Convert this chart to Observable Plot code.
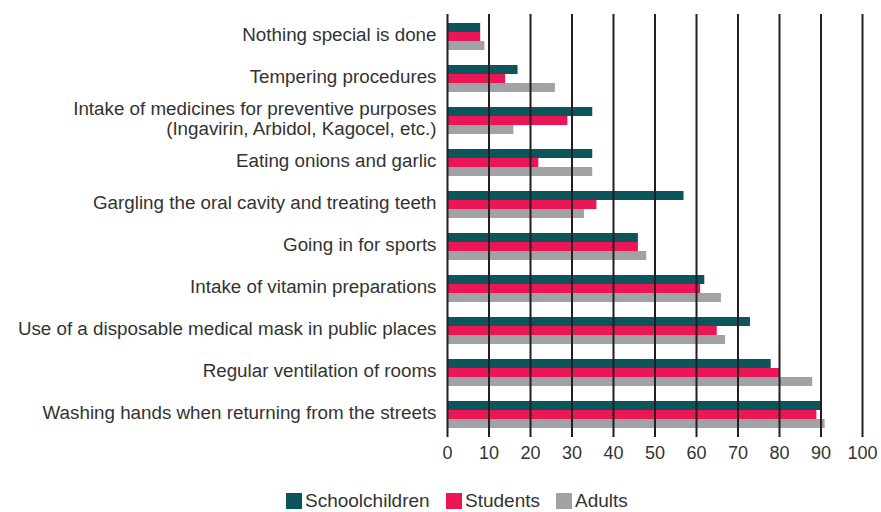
<!DOCTYPE html>
<html>
<head>
<meta charset="utf-8">
<script src="https://cdn.jsdelivr.net/npm/d3@7"></script>
<script src="https://cdn.jsdelivr.net/npm/@observablehq/plot@0.6"></script>
<style>
  html, body { margin: 0; padding: 0; background: #fff; overflow: hidden; }
  body { width: 881px; font-family: "Liberation Sans", Arial, sans-serif; color: #333; }
  #chart svg { display: block; }
  #legend { position: relative; height: 37px; font-size: 19px; }
  .item { position: absolute; top: 18px; display: flex; align-items: center; height: 16px; }
  .sw { width: 16px; height: 16px; margin-right: 3px; }
  .item span { display: block; line-height: 16px; }
</style>
</head>
<body>
<div id="chart"></div>
<div id="legend"></div>
<script>
const categories = [
  "Nothing special is done",
  "Tempering procedures",
  "Intake of medicines for preventive purposes\n(Ingavirin, Arbidol, Kagocel, etc.)",
  "Eating onions and garlic",
  "Gargling the oral cavity and treating teeth",
  "Going in for sports",
  "Intake of vitamin preparations",
  "Use of a disposable medical mask in public places",
  "Regular ventilation of rooms",
  "Washing hands when returning from the streets"
];
const series = ["Schoolchildren", "Students", "Adults"];
const schoolchildren = [8, 17, 35, 35, 57, 46, 62, 73, 78, 90];
const students = [8, 14, 29, 22, 36, 46, 61, 65, 80, 89];
const adults = [9, 26, 16, 35, 33, 48, 66, 67, 88, 91];
const xTicks = [0, 10, 20, 30, 40, 50, 60, 70, 80, 90, 100];
const colors = ["#0b555b", "#ec1556", "#a1a2a6"];

const valuesBySeries = [schoolchildren, students, adults];
const rows = [];
series.forEach((s, si) => categories.forEach((c, ci) => rows.push({category: c, series: s, value: valuesBySeries[si][ci]})));

const bandInset = [[0, 18], [9, 9], [18, 0]];

const chart = Plot.plot({
  width: 881,
  height: 475,
  marginLeft: 447,
  marginRight: 19,
  marginTop: 14,
  marginBottom: 38,
  style: {fontFamily: "Liberation Sans, Arial, sans-serif", fontSize: "18px", color: "#333"},
  x: {domain: [0, 100], ticks: xTicks, label: null},
  y: {domain: categories, paddingInner: 0.36, paddingOuter: 0.185, label: null},
  color: {domain: series, range: colors},
  marks: [
    ...series.map((s, si) => Plot.barX(rows.filter(d => d.series === s), {
      x: "value", y: "category", fill: "series",
      insetTop: bandInset[si][0], insetBottom: bandInset[si][1]
    })),
    Plot.ruleX(xTicks, {stroke: "#231f20", strokeWidth: 2}),
    Plot.axisX({ticks: xTicks, tickSize: 0, tickPadding: 9, fontSize: 18, fill: "#333", label: null}),
    Plot.axisY({tickSize: 0, tickPadding: 11, fontSize: 18.8, fill: "#333", label: null, lineHeight: 1.05, dy: -2})
  ]
});
document.getElementById("chart").appendChild(chart);

const legend = document.getElementById("legend");
const lefts = [286, 446, 556];
series.forEach((s, i) => {
  const item = document.createElement("div");
  item.className = "item";
  item.style.left = lefts[i] + "px";
  item.innerHTML = `<div class="sw" style="background:${colors[i]}"></div><span>${s}</span>`;
  legend.appendChild(item);
});
</script>
</body>
</html>
